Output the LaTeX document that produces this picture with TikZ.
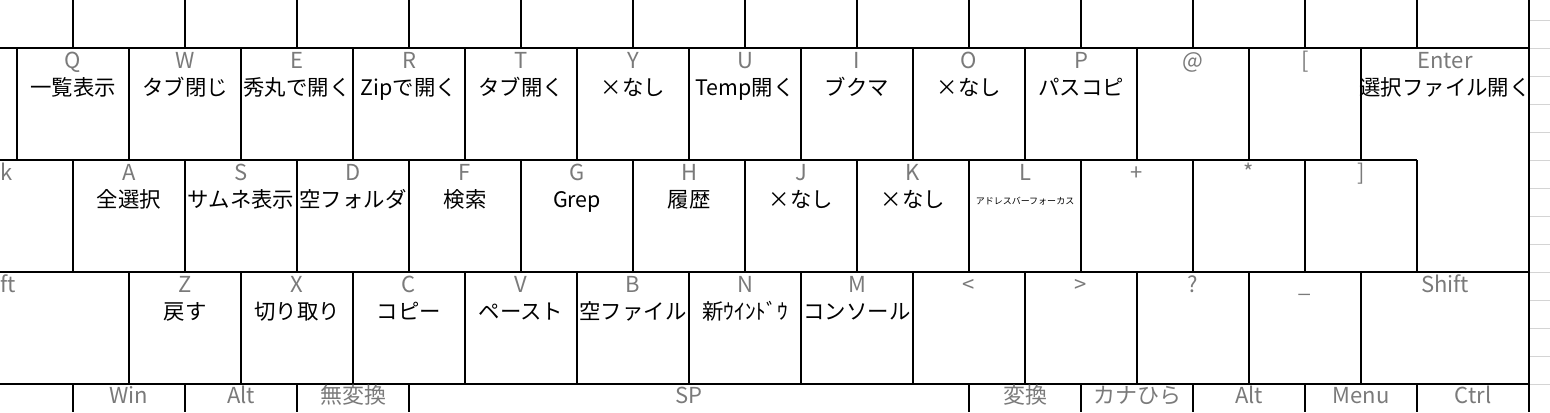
\documentclass[tikz,border=0pt]{standalone}
\usepackage{fontspec}
\setmainfont{Noto Sans CJK JP}
\definecolor{keygray}{HTML}{7A7A7A}
\definecolor{gridgray}{HTML}{D4D4D4}
\tikzset{
  keyname/.style={anchor=base,inner sep=0pt,text=keygray,font=\fontsize{11}{13}\selectfont},
  keyfunc/.style={anchor=base,inner sep=0pt,font=\fontsize{10.7}{12}\selectfont},
  tinyfunc/.style={anchor=base,inner sep=0pt,font=\fontsize{4.5}{5}\selectfont},
  keyline/.style={draw=black,line width=0.65pt}
}
\begin{document}
\begin{tikzpicture}[x=0.5pt,y=-0.5pt]
        \useasboundingbox (0,0) rectangle (1550,412);
        % row borders
        \draw[keyline] (0,48) -- (1529,48);
        \draw[keyline] (0,160) -- (1417,160);
        \draw[keyline] (0,272) -- (1529,272);
        \draw[keyline] (0,384) -- (1529,384);
        \draw[keyline] (1529,0) -- (1529,412);
        \foreach \x in {73,185,...,1417} \draw[keyline] (\x,0) -- (\x,48);
        \foreach \x in {17,129,...,1361} \draw[keyline] (\x,48) -- (\x,160);
        \foreach \x in {73,185,...,1417} \draw[keyline] (\x,160) -- (\x,272);
        \foreach \x in {129,241,...,1361} \draw[keyline] (\x,272) -- (\x,384);
        \foreach \x in {73,185,297,409,969,1081,1193,1305,1417} \draw[keyline] (\x,384) -- (\x,412);
        % sheet grid on the right
        \foreach \y in {20,48,...,384} \draw[gridgray,line width=0.5pt] (1530,\y) -- (1550,\y);
        % Q row
        \node[keyname] (q) at (73,68) {Q};
        \node[keyfunc] (qf) at (73,95) {一覧表示};
        \node[keyname] (w) at (185,68) {W};
        \node[keyfunc] (wf) at (185,95) {タブ閉じ};
        \node[keyname] (e) at (297,68) {E};
        \node[keyfunc] (ef) at (297,95) {秀丸で開く};
        \node[keyname] (r) at (409,68) {R};
        \node[keyfunc] (rf) at (409,95) {Zipで開く};
        \node[keyname] (t) at (521,68) {T};
        \node[keyfunc] (tf) at (521,95) {タブ開く};
        \node[keyname] (y) at (633,68) {Y};
        \node[keyfunc] (yf) at (633,95) {×なし};
        \node[keyname] (u) at (745,68) {U};
        \node[keyfunc] (uf) at (745,95) {Temp開く};
        \node[keyname] (i) at (857,68) {I};
        \node[keyfunc] (if) at (857,95) {ブクマ};
        \node[keyname] (o) at (969,68) {O};
        \node[keyfunc] (of) at (969,95) {×なし};
        \node[keyname] (p) at (1081,68) {P};
        \node[keyfunc] (pf) at (1081,95) {パスコピ};
        \node[keyname] (atmark) at (1193,68) {@};
        \node[keyname] (lbrack) at (1305,68) {[};
        \node[keyname] (enter) at (1445,68) {Enter};
        \node[keyfunc] (enterf) at (1445,95) {選択ファイル開く};
        % A row
        \node[keyname,anchor=base west] (caps) at (0,180) {k};
        \node[keyname] (a) at (129,180) {A};
        \node[keyfunc] (af) at (129,207) {全選択};
        \node[keyname] (s) at (241,180) {S};
        \node[keyfunc] (sf) at (241,207) {サムネ表示};
        \node[keyname] (d) at (353,180) {D};
        \node[keyfunc] (df) at (353,207) {空フォルダ};
        \node[keyname] (f) at (465,180) {F};
        \node[keyfunc] (ff) at (465,207) {検索};
        \node[keyname] (g) at (577,180) {G};
        \node[keyfunc] (gf) at (577,207) {Grep};
        \node[keyname] (h) at (689,180) {H};
        \node[keyfunc] (hf) at (689,207) {履歴};
        \node[keyname] (j) at (801,180) {J};
        \node[keyfunc] (jf) at (801,207) {×なし};
        \node[keyname] (k) at (913,180) {K};
        \node[keyfunc] (kf) at (913,207) {×なし};
        \node[keyname] (l) at (1025,180) {L};
        \node[tinyfunc] (lf) at (1025,204) {アドレスバーフォーカス};
        \node[keyname] (plus) at (1137,180) {+};
        \node[keyname] (star) at (1249,180) {*};
        \node[keyname] (rbrack) at (1361,180) {]};
        % Z row
        \node[keyname,anchor=base west] (lshift) at (0,292) {ft};
        \node[keyname] (z) at (185,292) {Z};
        \node[keyfunc] (zf) at (185,319) {戻す};
        \node[keyname] (x) at (297,292) {X};
        \node[keyfunc] (xf) at (297,319) {切り取り};
        \node[keyname] (c) at (409,292) {C};
        \node[keyfunc] (cf) at (409,319) {コピー};
        \node[keyname] (v) at (521,292) {V};
        \node[keyfunc] (vf) at (521,319) {ペースト};
        \node[keyname] (b) at (633,292) {B};
        \node[keyfunc] (bf) at (633,319) {空ファイル};
        \node[keyname] (n) at (745,292) {N};
        \node[keyfunc] (nf) at (745,319) {新ｳｲﾝﾄﾞｳ};
        \node[keyname] (m) at (857,292) {M};
        \node[keyfunc] (mf) at (857,319) {コンソール};
        \node[keyname] (less) at (969,292) {<};
        \node[keyname] (greater) at (1081,292) {>};
        \node[keyname] (quest) at (1193,292) {?};
        \node[keyname] (under) at (1305,292) {\_};
        \node[keyname] (rshift) at (1445,292) {Shift};
        % bottom row
        \node[keyname] (win) at (129,403) {Win};
        \node[keyname] (lalt) at (241,403) {Alt};
        \node[keyname] (muhen) at (353,403) {無変換};
        \node[keyname] (space) at (689,403) {SP};
        \node[keyname] (henkan) at (1025,403) {変換};
        \node[keyname] (kana) at (1137,403) {カナひら};
        \node[keyname] (ralt) at (1249,403) {Alt};
        \node[keyname] (menu) at (1361,403) {Menu};
        \node[keyname] (ctrl) at (1473,403) {Ctrl};
\end{tikzpicture}
\end{document}
